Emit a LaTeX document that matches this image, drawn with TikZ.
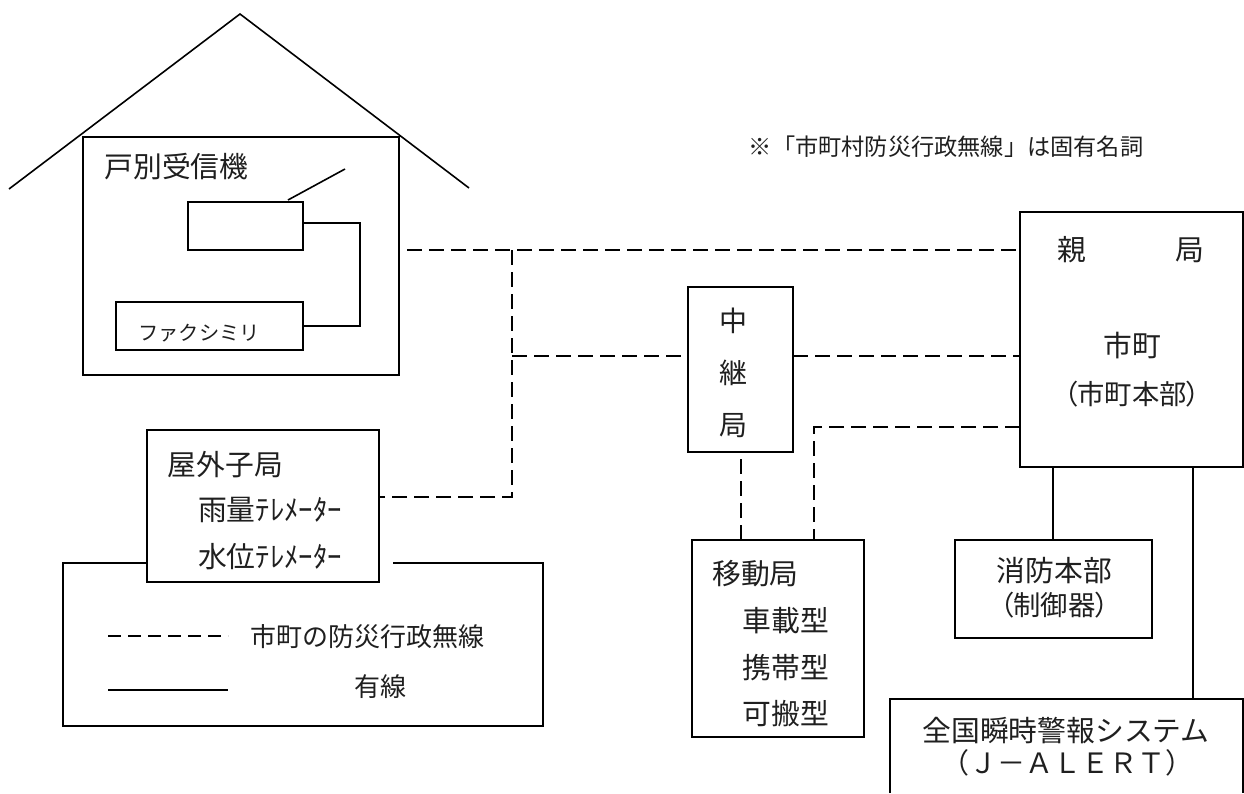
\documentclass[tikz,border=0pt]{standalone}
\usepackage{fontspec}
\setmainfont{Noto Sans CJK JP}
\newfontfamily\cjkp[RawFeature=+palt]{Noto Sans CJK JP}
\usetikzlibrary{fit}
\tikzset{
  x=0.75pt,y=-0.75pt,
  boxn/.style={draw=black,line width=1.5pt,inner sep=0pt,outer sep=0pt},
  wire/.style={draw=black,line width=1.4pt},
  radio/.style={draw=black,line width=1.5pt,dash pattern=on 11.5pt off 5pt},
  txtbase/.style={inner sep=0pt,outer sep=0pt,text=black!88},
  big/.style={txtbase,font=\fontsize{21.6}{26}\selectfont},
  mid/.style={txtbase,font=\fontsize{19.5}{24}\selectfont},
  note/.style={txtbase,font=\fontsize{17.4}{21}\selectfont},
  small/.style={txtbase,font=\fontsize{15.2}{18}\selectfont},
}
\begin{document}
\begin{tikzpicture}
\useasboundingbox (0,0) rectangle (1244,793);
% house
\coordinate (rl) at (9,189);
\coordinate (rt) at (240,14);
\coordinate (rr) at (469,188);
\draw[line width=1.2pt,line join=miter] (rl) -- (rt) -- (rr);
\node[boxn,fit={(83,137)(399,375)}] (house) {};
\node[boxn,fit={(188,202)(303,250)}] (recv) {};
\node[boxn,fit={(116,302)(303,350)}] (fax) {};
\coordinate (ant) at (345,169);
\coordinate (antb) at (288,200);
\draw[line width=1.2pt] (antb) -- (ant);
\coordinate (w1) at (360,223);
\coordinate (w2) at (360,326);
\draw[wire] (recv.east |- w1) -- (w1) -- (w2) -- (fax.east |- w2);
\node[big] (tkobetsu) at (176.5,167) {戸別受信機};
\node[small] (tfax) at (199,333) {ファクシミリ};
\node[note] (tnote) at (946,147) {※「市町村防災行政無線」は固有名詞};
% stations
\node[boxn,fit={(147,430)(379,582)}] (oku) {};
\node[boxn,fit={(1020,212)(1243,467)}] (oya) {};
\node[boxn,fit={(688,287)(793,452)}] (chu) {};
\node[boxn,fit={(692,540)(864,737)}] (ido) {};
\node[boxn,fit={(955,540)(1152,638)}] (sho) {};
% J-ALERT box is cut by the page edge
\coordinate (al) at (890,699);
\coordinate (ar) at (1243,699);
\draw[line width=1.5pt] (890,793) -- (al) -- (ar) -- (1243,793);
% legend box
\draw[line width=1.4pt] (147,563) -- (63,563) -- (63,726) -- (543,726) -- (543,563) -- (393,563);
% radio links
\coordinate (d0) at (407,250);
\coordinate (j1) at (512,250);
\coordinate (j2) at (512,356);
\coordinate (j3) at (512,497);
\draw[radio] (d0) -- (oya.west |- d0);
\draw[radio] (j1) -- (j3) -- (oku.east |- j3);
\draw[radio] (j2) -- (chu.west |- j2);
\draw[radio] (chu.east |- j2) -- (oya.west |- j2);
\coordinate (d1) at (741,459);
\draw[radio] (d1) -- (d1 |- ido.north);
\coordinate (d2) at (814,427);
\draw[radio] (oya.west |- d2) -- (d2) -- (d2 |- ido.north);
% wired links
\coordinate (s1) at (1053,467);
\coordinate (s2) at (1193,467);
\draw[wire] (s1) -- (s1 |- sho.north);
\draw[wire] (s2) -- (s2 |- al);
% legend
\coordinate (l1a) at (108,636);
\coordinate (l1b) at (228,636);
\coordinate (l2a) at (108,690);
\coordinate (l2b) at (228,690);
\draw[line width=1.3pt,dash pattern=on 10pt off 5pt] (l1a) -- (l1b);
\draw[line width=1.3pt] (l2a) -- (l2b);
\node[mid] (tleg1) at (367,637) {市町の防災行政無線};
\node[mid] (tleg2) at (380,687) {有線};
% texts
\node[big] (toku) at (225.5,465) {屋外子局};
\node[big,anchor=west] (tu) at (198,510) {雨量ﾃﾚﾒｰﾀｰ};
\node[big,anchor=west] (tm) at (198,557) {水位ﾃﾚﾒｰﾀｰ};
\node[big] (toya1) at (1072,250) {親};
\node[big] (toya2) at (1190,250) {局};
\node[big] (tshi) at (1132,346) {市町};
\node[big,font=\cjkp\fontsize{20.5}{26}\selectfont] (tshi2) at (1132,394) {（市町本部）};
\node[big,align=center,font=\fontsize{21}{39}\selectfont] (tchu) at (733,373) {中\\継\\局};
\node[big] (tido) at (755.5,574) {移動局};
\node[big] (ta) at (786,621) {車載型};
\node[big] (tb) at (786,668) {携帯型};
\node[big] (tc) at (786,714) {可搬型};
\node[big] (tsho) at (1054.5,571) {消防本部};
\node[big,font=\cjkp\fontsize{20.5}{26}\selectfont] (tsei) at (1054.5,605) {（制御器）};
\node[big] (tzen) at (1066,731) {全国瞬時警報システム};
\node[big,font=\fontsize{21}{26}\selectfont] (tj) at (1067,763) {（Ｊ－ＡＬＥＲＴ）};
\end{tikzpicture}
\end{document}
